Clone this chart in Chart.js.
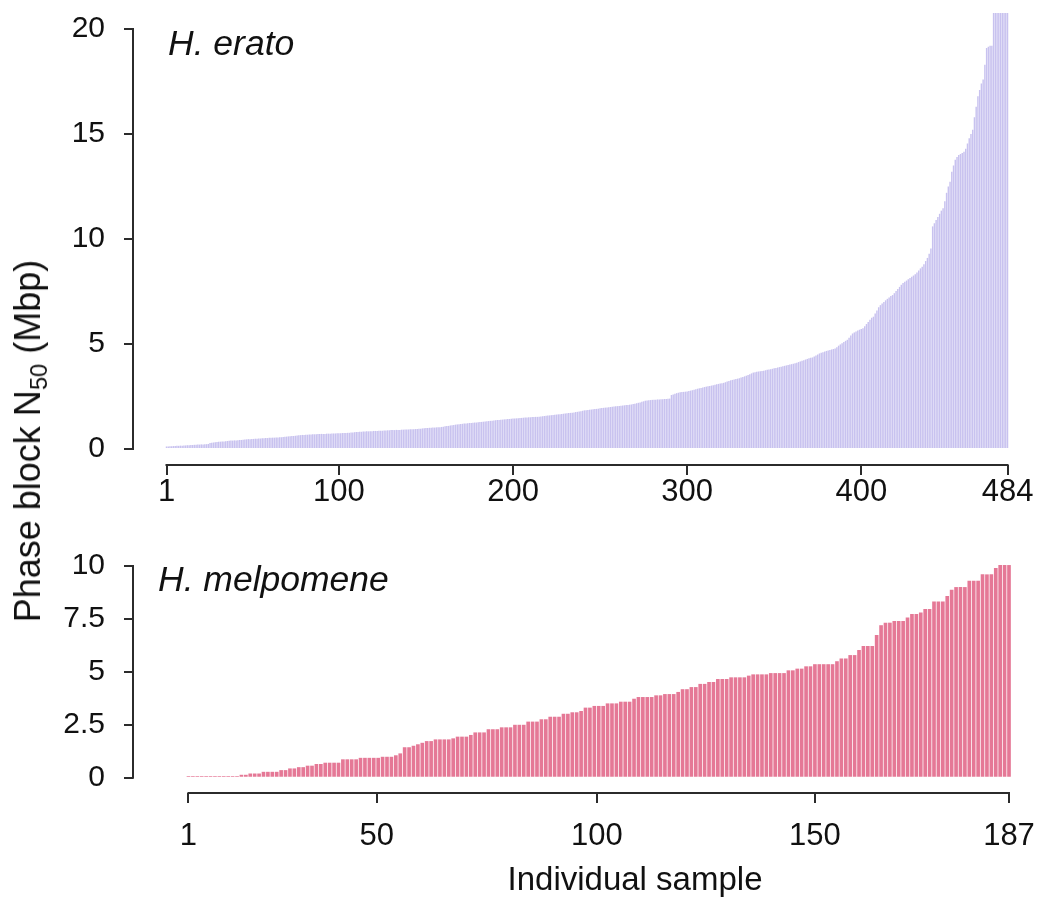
<!DOCTYPE html>
<html><head><meta charset="utf-8">
<script src="https://cdn.jsdelivr.net/npm/chart.js@4.4.1/dist/chart.umd.min.js"></script>
<style>
html,body{margin:0;padding:0;background:#fff;}
#wrap{position:relative;width:1049px;height:897px;overflow:hidden;background:#fff;}
#c1{position:absolute;left:0;top:0;}
#c2{position:absolute;left:0;top:520px;}
#ylab{position:absolute;left:28px;top:441px;transform:translate(-50%,-50%) rotate(-90deg);white-space:nowrap;font-family:'Liberation Sans',Arial,sans-serif;font-size:36px;color:#111;line-height:1;}
#ylab sub{font-size:0.66em;vertical-align:-0.28em;line-height:0;}
</style></head>
<body>
<div id="wrap">
<canvas id="c1" width="1049" height="520"></canvas>
<canvas id="c2" width="1049" height="377"></canvas>
<div id="ylab">Phase block N<sub>50</sub> (Mbp)</div>
</div>
<script>
// ---------- data ----------
const eratoN50 = [
0.12,0.12,0.13,0.13,0.14,0.14,0.15,0.15,0.16,0.16,
0.17,0.17,0.18,0.18,0.19,0.19,0.20,0.20,0.21,0.21,
0.22,0.22,0.23,0.23,0.24,0.28,0.30,0.31,0.32,0.33,
0.34,0.35,0.36,0.36,0.37,0.38,0.39,0.40,0.40,0.41,
0.41,0.42,0.43,0.43,0.44,0.45,0.46,0.47,0.47,0.48,
0.48,0.49,0.49,0.50,0.50,0.51,0.51,0.52,0.52,0.53,
0.53,0.54,0.54,0.55,0.55,0.56,0.56,0.57,0.58,0.59,
0.60,0.61,0.62,0.62,0.63,0.64,0.65,0.66,0.67,0.67,
0.68,0.68,0.69,0.69,0.70,0.70,0.70,0.71,0.71,0.72,
0.72,0.72,0.73,0.73,0.73,0.74,0.74,0.74,0.75,0.75,
0.75,0.76,0.76,0.76,0.77,0.77,0.78,0.79,0.80,0.81,
0.81,0.82,0.82,0.83,0.83,0.84,0.84,0.85,0.85,0.86,
0.86,0.86,0.87,0.87,0.87,0.88,0.88,0.89,0.89,0.90,
0.90,0.90,0.91,0.91,0.91,0.92,0.92,0.93,0.93,0.93,
0.94,0.94,0.94,0.95,0.95,0.96,0.97,0.98,0.99,1.00,
1.00,1.01,1.01,1.02,1.02,1.03,1.03,1.03,1.05,1.06,
1.08,1.09,1.10,1.12,1.13,1.14,1.16,1.17,1.18,1.19,
1.20,1.21,1.22,1.23,1.24,1.24,1.25,1.26,1.26,1.27,
1.28,1.29,1.30,1.31,1.32,1.33,1.34,1.35,1.36,1.37,
1.38,1.38,1.39,1.40,1.41,1.42,1.43,1.43,1.44,1.45,
1.45,1.46,1.47,1.48,1.48,1.49,1.50,1.50,1.51,1.51,
1.52,1.52,1.53,1.53,1.54,1.55,1.56,1.57,1.58,1.59,
1.60,1.61,1.62,1.63,1.64,1.65,1.66,1.67,1.68,1.69,
1.70,1.71,1.72,1.73,1.74,1.76,1.77,1.78,1.80,1.82,
1.84,1.85,1.86,1.87,1.88,1.89,1.90,1.91,1.92,1.94,
1.95,1.96,1.97,1.98,1.99,2.00,2.01,2.02,2.03,2.04,
2.05,2.06,2.07,2.08,2.09,2.10,2.11,2.12,2.14,2.16,
2.18,2.20,2.22,2.25,2.27,2.30,2.31,2.32,2.33,2.34,
2.35,2.35,2.36,2.36,2.37,2.37,2.38,2.38,2.39,2.40,
2.57,2.60,2.63,2.66,2.68,2.70,2.71,2.72,2.73,2.74,
2.76,2.78,2.80,2.82,2.85,2.87,2.89,2.91,2.93,2.95,
2.97,2.99,3.00,3.02,3.04,3.06,3.08,3.10,3.12,3.13,
3.15,3.18,3.21,3.24,3.27,3.29,3.31,3.33,3.35,3.37,
3.40,3.43,3.46,3.49,3.52,3.56,3.60,3.64,3.66,3.68,
3.69,3.70,3.72,3.73,3.75,3.77,3.79,3.80,3.82,3.84,
3.86,3.88,3.90,3.92,3.94,3.96,3.98,4.00,4.02,4.04,
4.06,4.08,4.11,4.14,4.17,4.20,4.23,4.26,4.29,4.32,
4.34,4.36,4.40,4.45,4.50,4.55,4.58,4.61,4.64,4.67,
4.69,4.71,4.74,4.76,4.79,4.85,4.92,4.98,5.04,5.10,
5.15,5.20,5.30,5.40,5.50,5.55,5.60,5.64,5.68,5.72,
5.75,5.85,5.95,6.05,6.15,6.25,6.30,6.45,6.60,6.75,
6.85,6.93,7.00,7.08,7.15,7.22,7.28,7.33,7.42,7.52,
7.62,7.72,7.82,7.90,7.96,8.02,8.08,8.14,8.20,8.26,
8.32,8.40,8.50,8.60,8.68,8.80,8.95,9.10,9.30,9.55,
10.60,10.75,10.90,11.05,11.20,11.35,11.46,11.80,12.20,12.50,
12.73,13.20,13.50,13.77,13.90,14.00,14.05,14.10,14.15,14.30,
14.55,14.80,15.00,15.20,15.80,16.30,16.80,17.10,17.40,17.60,
18.30,19.10,19.15,19.20,19.20,22.50,23.40,24.10,25.00,26.20,
27.50,29.00,31.20,35.60
];
const melpomeneN50 = [
0.08,0.08,0.08,0.08,0.08,0.08,0.08,0.08,0.08,0.08,
0.08,0.08,0.14,0.14,0.20,0.20,0.20,0.28,0.28,0.28,
0.28,0.36,0.36,0.44,0.44,0.50,0.50,0.57,0.57,0.65,
0.65,0.71,0.71,0.71,0.71,0.87,0.87,0.87,0.87,0.94,
0.94,0.94,0.94,0.94,0.99,0.99,0.99,1.06,1.15,1.44,
1.44,1.51,1.58,1.65,1.73,1.73,1.81,1.81,1.81,1.81,
1.86,1.94,1.94,1.94,2.02,2.14,2.14,2.14,2.29,2.29,
2.29,2.38,2.38,2.38,2.50,2.50,2.50,2.65,2.65,2.65,
2.76,2.76,2.88,2.88,2.88,3.02,3.02,3.09,3.09,3.15,
3.31,3.31,3.39,3.39,3.39,3.51,3.51,3.51,3.59,3.59,
3.59,3.73,3.81,3.81,3.81,3.81,3.89,3.89,3.95,3.95,
3.95,4.05,4.18,4.18,4.28,4.28,4.43,4.43,4.52,4.52,
4.66,4.66,4.66,4.74,4.74,4.74,4.74,4.82,4.88,4.88,
4.88,4.88,4.94,4.94,4.94,4.94,5.07,5.07,5.15,5.15,
5.26,5.26,5.36,5.36,5.36,5.36,5.36,5.50,5.63,5.63,
5.79,5.79,6.03,6.22,6.22,6.22,6.74,7.20,7.32,7.32,
7.40,7.40,7.40,7.56,7.73,7.73,7.80,7.96,7.96,8.32,
8.32,8.32,8.58,8.87,9.00,9.00,9.00,9.30,9.30,9.30,
9.60,9.60,9.60,9.90,10.04,10.04,10.04
];
const eratoXTicks = [1, 100, 200, 300, 400, 484];
const eratoXLabels = ['1', '100', '200', '300', '400', '484'];
const eratoYTicks = [0, 5, 10, 15, 20];
const eratoYLabels = ['0', '5', '10', '15', '20'];
const melpXTicks = [1, 43.7, 93.6, 143, 187];
const melpXLabels = ['1', '50', '100', '150', '187'];
const melpYTicks = [0, 2.5, 5, 7.5, 10];
const melpYLabels = ['0', '2.5', '5', '7.5', '10'];
const titles = ['H. erato', 'H. melpomene'];
const xTitle = 'Individual sample';

// ---------- drawing ----------
const FONT = "'Liberation Sans', Arial, Helvetica, sans-serif";
const AXIS = '#2b2b2b';

const decor = {
  id: 'decor',
  afterDraw(chart, args, o) {
    const ctx = chart.ctx, ca = chart.chartArea;
    const xs = chart.scales.x, ys = chart.scales.y;
    ctx.save();
    ctx.strokeStyle = AXIS; ctx.lineWidth = 2; ctx.lineCap = 'butt';
    ctx.beginPath();
    ctx.moveTo(ca.left, ys.getPixelForValue(o.yTicks[0]) + 1);
    ctx.lineTo(ca.left, ys.getPixelForValue(o.yTicks[o.yTicks.length - 1]) - 1);
    ctx.stroke();
    ctx.beginPath();
    ctx.moveTo(xs.getPixelForValue(o.xTicks[0]) - 1, ca.bottom);
    ctx.lineTo(xs.getPixelForValue(o.xTicks[o.xTicks.length - 1]) + 1, ca.bottom);
    ctx.stroke();
    ctx.fillStyle = '#111';
    ctx.font = 'italic 35.5px ' + FONT;
    ctx.textBaseline = 'alphabetic';
    ctx.textAlign = 'left';
    ctx.fillText(o.title, o.titleX, o.titleY);
    if (o.xTitle) {
      ctx.font = '33px ' + FONT;
      ctx.textAlign = 'center';
      ctx.fillText(o.xTitle, o.xTitleX, o.xTitleY);
    }
    ctx.restore();
  }
};

function panel(el, c) {
  return new Chart(el, {
    type: 'bar',
    data: {
      datasets: [{
        data: c.values.map((v, i) => ({ x: i + 1, y: v })),
        backgroundColor: c.color,
        borderWidth: 0,
        barPercentage: c.barPct,
        categoryPercentage: 1,
        grouped: false,
        clip: 0
      }]
    },
    options: {
      responsive: false,
      animation: false,
      devicePixelRatio: 1,
      layout: { padding: { top: c.padTop, right: 7, left: 0, bottom: 0 } },
      plugins: {
        legend: { display: false },
        tooltip: { enabled: false },
        decor: { xTicks: c.xTicks, yTicks: c.yTicks, title: c.title, titleX: c.titleX, titleY: c.titleY,
                 xTitle: c.xTitle, xTitleX: 635, xTitleY: c.xTitleY }
      },
      scales: {
        x: {
          type: 'linear', min: c.xMin, max: c.xMax, offset: false,
          grid: { display: true, offset: false, drawOnChartArea: false, drawTicks: true, tickLength: 10, color: AXIS, lineWidth: 2 },
          border: { display: false },
          ticks: { autoSkip: false, maxRotation: 0, minRotation: 0, padding: c.xPad, color: '#111',
                   font: { family: FONT, size: 31 }, callback: (v, i) => c.xLabels[i] },
          afterBuildTicks: s => { s.ticks = c.xTicks.map(v => ({ value: v })); },
          afterFit: s => { s.height = c.xHeight; s.paddingLeft = 0; s.paddingRight = 0; }
        },
        y: {
          min: c.yMin, max: c.yMax,
          grid: { display: true, drawOnChartArea: false, drawTicks: true, tickLength: 9, color: AXIS, lineWidth: 2 },
          border: { display: false },
          ticks: { padding: 19, color: '#111', font: { family: FONT, size: 30 }, callback: (v, i) => c.yLabels[i] },
          afterBuildTicks: s => { s.ticks = c.yTicks.map(v => ({ value: v })); },
          afterFit: s => { s.width = 133; s.paddingTop = 0; s.paddingBottom = 0; }
        }
      }
    },
    plugins: [decor]
  });
}

panel(document.getElementById('c1'), {
  values: eratoN50, color: 'rgb(200,194,239)', barPct: 0.83,
  xTicks: eratoXTicks, xLabels: eratoXLabels, yTicks: eratoYTicks, yLabels: eratoYLabels,
  xMin: -18.24, xMax: 503.8, yMin: -0.762, yMax: 20.762,
  padTop: 13, xHeight: 55, xPad: -1,
  title: titles[0], titleX: 168, titleY: 55
});
panel(document.getElementById('c2'), {
  values: melpomeneN50, color: 'rgb(229,120,150)', barPct: 0.83,
  xTicks: melpXTicks, xLabels: melpXLabels, yTicks: melpYTicks, yLabels: melpYLabels,
  xMin: -11.58, xMax: 194.48, yMin: -0.72, yMax: 10.42,
  padTop: 37, xHeight: 104, xPad: 15,
  title: titles[1], titleX: 158, titleY: 71,
  xTitle: xTitle, xTitleY: 370
});
</script>
</body></html>
